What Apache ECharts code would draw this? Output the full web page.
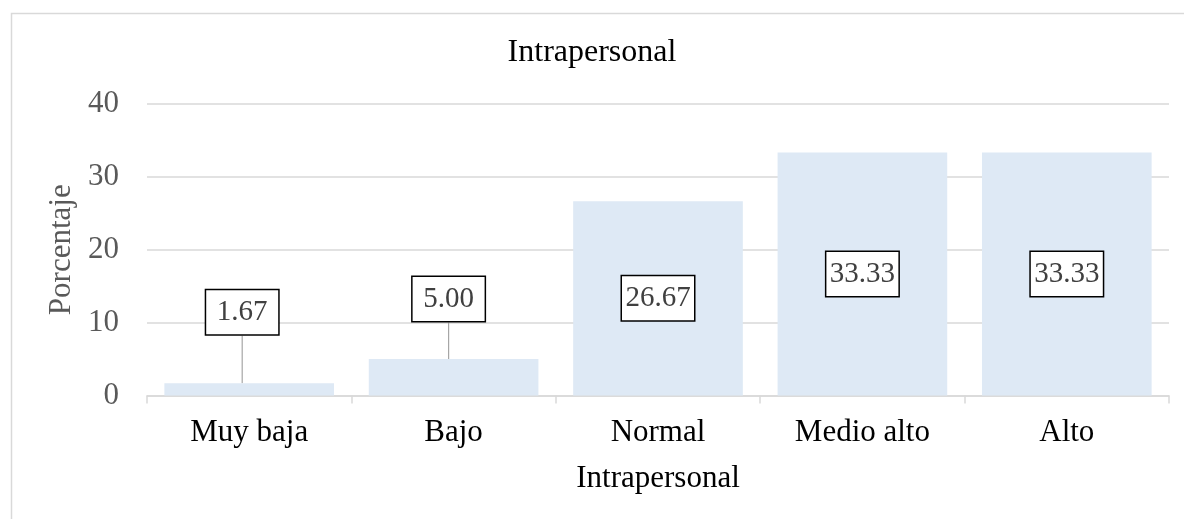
<!DOCTYPE html>
<html>
<head>
<meta charset="utf-8">
<script src="https://cdn.jsdelivr.net/npm/echarts@6/dist/echarts.min.js"></script>
<style>
html,body{margin:0;padding:0;background:#fff;}
#chart{width:1184px;height:519px;}
</style>
</head>
<body>
<div id="chart"></div>
<script>
var chartTitle = 'Intrapersonal';
var categories = ['Muy baja', 'Bajo', 'Normal', 'Medio alto', 'Alto'];
var values = [1.67, 5.00, 26.67, 33.33, 33.33];
var yTicks = [0, 10, 20, 30, 40];
var xAxisName = 'Intrapersonal';
var yAxisName = 'Porcentaje';

// label placement style (not data): which labels sit above the bar with a leader line
var labelShift = { 0: { dx: -7, dy: -44 }, 1: { dx: -5, dy: -33 } };

var FONT = "'Liberation Serif', 'Times New Roman', serif";
var chart = echarts.init(document.getElementById('chart'));

var seriesData = values.map(function (v, i) {
  var item = { value: v };
  if (labelShift[i]) {
    item.label = { position: 'top', distance: 5 };
    item.labelLine = { show: true, lineStyle: { color: '#a6a6a6', width: 1.2 } };
  }
  return item;
});

chart.setOption({
  animation: false,
  backgroundColor: '#fff',
  title: {
    text: chartTitle,
    left: 'center',
    top: 32,
    textStyle: { fontFamily: FONT, fontSize: 32, fontWeight: 'normal', color: '#000' }
  },
  graphic: [{
    type: 'rect',
    left: 9, top: 11,
    shape: { width: 1300, height: 700 },
    style: { fill: 'none', stroke: '#d9d9d9', lineWidth: 1.5 },
    silent: true, z: -1
  }],
  grid: { left: 147, right: 15, top: 104, bottom: 123.5, containLabel: false },
  xAxis: {
    type: 'category',
    data: categories,
    name: xAxisName,
    nameLocation: 'middle',
    nameGap: 68,
    nameTextStyle: { fontFamily: FONT, fontSize: 31, color: '#000' },
    axisLine: { lineStyle: { color: '#d9d9d9', width: 1.5 } },
    axisTick: { show: true, length: 8, lineStyle: { color: '#d9d9d9', width: 1.5 } },
    axisLabel: { fontFamily: FONT, fontSize: 31, color: '#000', margin: 22 }
  },
  yAxis: {
    type: 'value',
    min: yTicks[0],
    max: yTicks[yTicks.length - 1],
    interval: yTicks[1] - yTicks[0],
    name: yAxisName,
    nameLocation: 'middle',
    nameGap: 70,
    nameTextStyle: { fontFamily: FONT, fontSize: 31, color: '#595959' },
    axisLine: { show: false },
    axisTick: { show: false },
    splitLine: { lineStyle: { color: '#d9d9d9', width: 1.5 } },
    axisLabel: { fontFamily: FONT, fontSize: 31, color: '#595959', margin: 28 }
  },
  series: [{
    type: 'bar',
    data: seriesData,
    barCategoryGap: '17%',
    itemStyle: { color: '#dee9f5' },
    label: {
      show: true,
      position: 'inside',
      formatter: function (p) { return p.value.toFixed(2); },
      fontFamily: FONT,
      fontSize: 29,
      color: '#404040',
      backgroundColor: '#fff',
      borderColor: '#000',
      borderWidth: 1.5,
      width: 60,
      align: 'center',
      lineHeight: 34,
      padding: [5, 6]
    },
    labelLayout: function (params) {
      var s = labelShift[params.dataIndex];
      return s ? { dx: s.dx, dy: s.dy } : {};
    }
  }]
});
</script>
</body>
</html>
